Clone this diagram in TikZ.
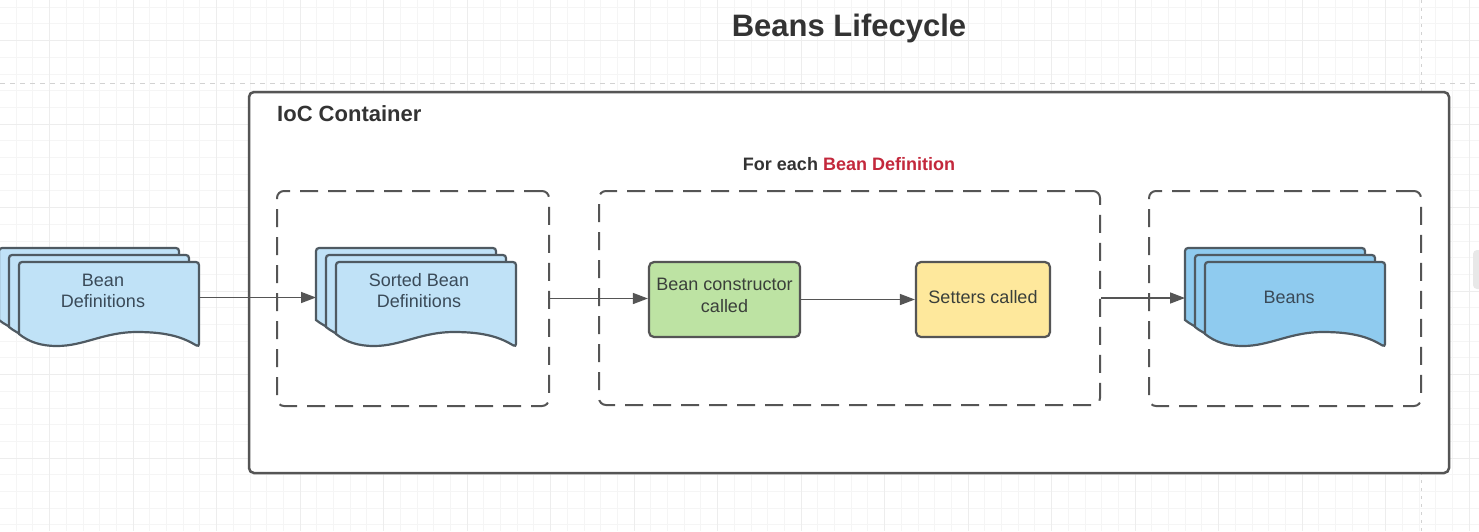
\documentclass[tikz,border=0pt]{standalone}
\usepackage{fontspec}
\setmainfont{Liberation Sans}
\usetikzlibrary{arrows.meta}
\definecolor{edgec}{HTML}{555555}
\definecolor{docedge}{HTML}{4F5A62}
\definecolor{titlec}{HTML}{333333}
\definecolor{boxtext}{HTML}{3A3F3A}
\definecolor{doctext}{HTML}{3A4A58}
\definecolor{redc}{HTML}{C3283C}
\definecolor{lightblue}{HTML}{C0E2F7}
\definecolor{midblue}{HTML}{8FCBEF}
\definecolor{greenc}{HTML}{BDE3A3}
\definecolor{yellowc}{HTML}{FEE89C}
\definecolor{gridminor}{HTML}{F5F5F5}
\definecolor{gridmajor}{HTML}{EDEDED}
\definecolor{pagec}{HTML}{D2D2D2}
\newcommand\docsheet[3]{%
  \filldraw[docline, fill=#3, rounded corners=3pt]
    (#1,#2+72) -- (#1,#2) -- (#1+180,#2) -- (#1+180,#2+85) [sharp corners]
    .. controls (#1+165,#2+76) and (#1+150,#2+70) .. (#1+118,#2+70)
    .. controls (#1+85,#2+70) and (#1+65,#2+84) .. (#1+38,#2+84)
    .. controls (#1+22,#2+84) and (#1+10,#2+80) .. (#1,#2+72) -- cycle;}
\newcommand\docstack[3]{%
  \docsheet{#1}{#2}{#3}%
  \docsheet{#1+10}{#2+7}{#3}%
  \docsheet{#1+20}{#2+14}{#3}}
\begin{document}
\begin{tikzpicture}[x=1pt,y=-1pt,
  docline/.style={draw=docedge, line width=2.2pt},
  container/.style={draw=edgec, line width=2.5pt, fill=white, rounded corners=5pt, inner sep=0pt},
  dashbox/.style={draw=edgec, line width=2pt, dash pattern=on 18pt off 10pt, rounded corners=7pt, inner sep=0pt},
  procbox/.style={draw=edgec, line width=2.2pt, rounded corners=5pt, inner sep=0pt},
  boxlabel/.style={align=center, text=boxtext, font=\fontsize{18}{21.5}\selectfont, inner sep=0pt},
  doclabel/.style={align=center, text=doctext, font=\fontsize{18}{21}\selectfont, inner sep=0pt},
  anchorbox/.style={inner sep=0pt, outer sep=0pt},
  flow/.style={draw=edgec, line width=1.5pt, -{Triangle[length=15pt,width=11pt]}},
  gminor/.style={draw=gridminor, line width=0.8pt},
  gmajor/.style={draw=gridmajor, line width=1pt},
  pageline/.style={draw=pagec, line width=1pt, dash pattern=on 5pt off 5pt}]
\useasboundingbox (0,0) rectangle (1479,531);
\fill[white] (0,0) rectangle (1479,531);
% background grid
\foreach \i in {0,...,89} {\draw[gminor] ({\i*16.7-0.6},0) -- ++(0,531);}
\foreach \j in {0,...,32} {\draw[gminor] (0,{\j*16.7+7.1}) -- ++(1479,0);}
\foreach \i in {0,...,17} {\draw[gmajor] ({\i*83.5+49.5},0) -- ++(0,531);}
\foreach \j in {0,...,6} {\draw[gmajor] (0,{\j*83.5+40.5}) -- ++(1479,0);}
% page border lines
\draw[pageline] (0,83) -- (1479,83);
\draw[pageline, dash pattern=on 3pt off 5pt] (1421.5,0) -- (1421.5,531);
% side tab
\fill[gray!18, rounded corners=4pt] (1473,250) rectangle (1486,289);
% title
\node[text=titlec, font=\bfseries\fontsize{31}{34}\selectfont] (title) at (849,28) {Beans Lifecycle};
% container
\node[container, minimum width=1200pt, minimum height=381pt] (ioc) at (849,282.5) {};
\node[anchor=west, text=titlec, font=\bfseries\fontsize{22}{26}\selectfont, inner sep=0pt] (ioclabel) at (277,114) {IoC Container};
\node[text=titlec, font=\bfseries\fontsize{18}{21}\selectfont] (foreach) at (849,164) {For each \textcolor{redc}{Bean Definition}};
% dashed groups
\node[dashbox, minimum width=272pt, minimum height=215pt] (box1) at (413,298.5) {};
\node[dashbox, minimum width=501pt, minimum height=214pt] (box2) at (849.5,298) {};
\node[dashbox, minimum width=272pt, minimum height=215pt] (box3) at (1285,298.5) {};
% document stacks
\docstack{-1}{248}{lightblue}
\node[anchorbox, minimum width=200pt, minimum height=99pt] (bd) at (99,297.5) {};
\node[doclabel] (bdtext) at (103,290.5) {Bean\\Definitions};
\docstack{316}{248}{lightblue}
\node[anchorbox, minimum width=200pt, minimum height=99pt] (sorted) at (416,297.5) {};
\node[doclabel] (sortedtext) at (419,290.5) {Sorted Bean\\Definitions};
\docstack{1185}{248}{midblue}
\node[anchorbox, minimum width=200pt, minimum height=99pt] (beans) at (1285,297.5) {};
\node[doclabel] (beanstext) at (1289,297) {Beans};
% process boxes
\node[procbox, fill=greenc, minimum width=151pt, minimum height=75pt] (ctor) at (724.5,299.5) {};
\node[boxlabel] (ctortext) at (724.5,295.5) {Bean constructor\\called};
\node[procbox, fill=yellowc, minimum width=134pt, minimum height=75pt] (setters) at (983,299.5) {};
\node[boxlabel] (setterstext) at (983,297) {Setters called};
% connectors
\draw[flow] (bd.east) -- (sorted.west);
\draw[flow] (box1.east) -- (box1.east -| ctor.west);
\draw[flow] (ctor.east) -- (setters.west);
\draw[flow] (box2.east) -- (box2.east -| beans.west);
\end{tikzpicture}
\end{document}
